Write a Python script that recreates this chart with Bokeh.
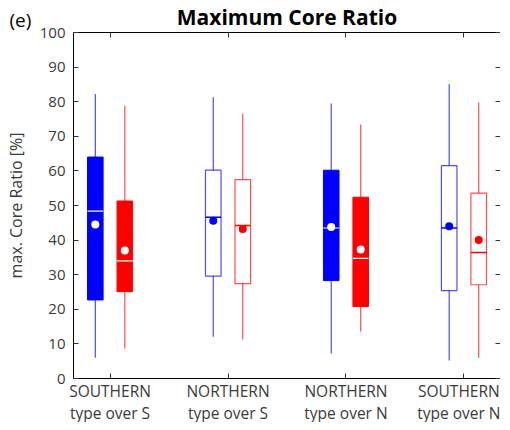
from bokeh.plotting import figure
from bokeh.models import Range1d, FixedTicker, LinearAxis
from bokeh.core.properties import value
from bokeh.embed import file_html
from bokeh.resources import INLINE

groups = ["SOUTHERN\ntype over S", "NORTHERN\ntype over S", "NORTHERN\ntype over N", "SOUTHERN\ntype over N"]
filled = [True, False, True, False]

# blue series
b_wlo = [6.0, 12.1, 7.2, 5.2]
b_q1 = [22.7, 29.6, 28.3, 25.4]
b_med = [48.4, 46.6, 43.5, 43.5]
b_mean = [44.5, 45.6, 43.8, 44.0]
b_q3 = [64.0, 60.2, 60.2, 61.5]
b_whi = [82.2, 81.3, 79.5, 85.1]

# red series
r_wlo = [8.7, 11.3, 13.6, 6.0]
r_q1 = [25.1, 27.4, 20.8, 27.1]
r_med = [34.0, 44.2, 34.7, 36.4]
r_mean = [37.0, 43.2, 37.3, 40.0]
r_q3 = [51.3, 57.5, 52.4, 53.6]
r_whi = [78.8, 76.6, 73.4, 79.8]

yticks = list(range(0, 101, 10))
xticks = [1, 2, 3, 4]
title_text = "Maximum Core Ratio"
panel_tag = "(e)"
ylabel = "max. Core Ratio [%]"

FONT = "Open Sans"
TXT = "#3a3a3a"

# axes box limits and page layout (pixels around the box)
XLO, XHI = 0.69, 4.31
YLO, YHI = yticks[0], yticks[-1]
W, H = 500, 422
M_LEFT, M_RIGHT, M_TOP, M_BOTTOM = 73, 0, 32, 44
px_x = (W - M_LEFT - M_RIGHT) / (XHI - XLO)
px_y = (H - M_TOP - M_BOTTOM) / (YHI - YLO)

p = figure(width=W, height=H, output_backend="svg", toolbar_location=None, title=None,
           x_range=Range1d(XLO - M_LEFT / px_x, XHI + M_RIGHT / px_x),
           y_range=Range1d(YLO - M_BOTTOM / px_y, YHI + M_TOP / px_y),
           x_axis_location=None, y_axis_location=None, min_border=0)
p.xgrid.visible = False
p.ygrid.visible = False
p.outline_line_color = None
p.background_fill_color = "white"
p.border_fill_color = "white"

off = 0.125
hw = 0.066
series = [
    ("#0000FF", -off, b_wlo, b_q1, b_med, b_mean, b_q3, b_whi),
    ("#FF0000", off, r_wlo, r_q1, r_med, r_mean, r_q3, r_whi),
]
for color, dx, wlo, q1, med, mean, q3, whi in series:
    for i in range(len(groups)):
        x = i + 1 + dx
        p.segment(x0=[x, x], y0=[wlo[i], q3[i]], x1=[x, x], y1=[q1[i], whi[i]],
                  line_color=color, line_width=1.2, line_alpha=0.7)
        if filled[i]:
            p.quad(left=[x - hw], right=[x + hw], bottom=[q1[i]], top=[q3[i]],
                   fill_color=color, line_color=color, line_width=1)
            p.segment(x0=[x - hw], x1=[x + hw], y0=[med[i]], y1=[med[i]],
                      line_color="white", line_width=1.2)
            p.scatter(x=[x], y=[mean[i]], size=8, fill_color="white", line_color=None)
        else:
            p.quad(left=[x - hw], right=[x + hw], bottom=[q1[i]], top=[q3[i]],
                   fill_color=None, line_color=color, line_width=1.2, line_alpha=0.7)
            p.segment(x0=[x - hw], x1=[x + hw], y0=[med[i]], y1=[med[i]],
                      line_color=color, line_width=1.6)
            p.scatter(x=[x], y=[mean[i]], size=8, fill_color=color, line_color=None)

xt = FixedTicker(ticks=xticks)
yt = FixedTicker(ticks=yticks)

def style(ax):
    ax.major_tick_in = 5
    ax.major_tick_out = 0
    ax.minor_tick_line_color = None
    ax.axis_line_color = "black"
    ax.axis_line_width = 1
    ax.major_tick_line_color = "#333333"
    ax.major_label_text_font = FONT
    ax.major_label_text_color = TXT
    ax.axis_label_text_font = FONT
    ax.axis_label_text_font_size = "16px"
    ax.axis_label_text_font_style = "normal"
    ax.axis_label_text_color = TXT
    return ax

left = style(LinearAxis(ticker=yt, fixed_location=XLO, bounds=(YLO, YHI),
                        axis_label=ylabel, axis_label_standoff=10,
                        major_label_text_font_size="15px", major_label_standoff=8))
right = style(LinearAxis(ticker=yt, fixed_location=XHI, bounds=(YLO, YHI),
                         major_label_overrides={t: "" for t in yticks}, major_label_standoff=0))
bottom = style(LinearAxis(ticker=xt, fixed_location=YLO, bounds=(XLO, XHI),
                          major_label_overrides={t: g for t, g in zip(xticks, groups)},
                          major_label_text_font_size="15.5px", major_label_text_line_height=1.0,
                          major_label_standoff=1))
top = style(LinearAxis(ticker=xt, fixed_location=YHI, bounds=(XLO, XHI),
                       major_label_overrides={t: "" for t in xticks}, major_label_standoff=0))
p.add_layout(left, "left")
p.add_layout(right, "right")
p.add_layout(bottom, "below")
p.add_layout(top, "above")

# title and panel tag above the axes box
p.text(x=[(XLO + XHI) / 2], y=[YHI + 16 / px_y], text=[title_text],
       text_align="center", text_baseline="alphabetic", text_font=value(FONT),
       text_font_size="21px", text_font_style="bold", text_color="black")
p.text(x=[p.x_range.start + 9 / px_x], y=[YHI + 13 / px_y], text=[panel_tag],
       text_align="left", text_baseline="alphabetic", text_font=value(FONT),
       text_font_size="19px", text_color="black")

open("out.html", "w").write(file_html(p, INLINE))
